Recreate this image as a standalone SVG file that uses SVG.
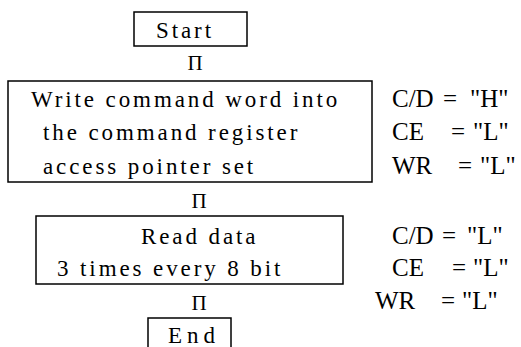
<svg xmlns="http://www.w3.org/2000/svg" width="521" height="347" viewBox="0 0 521 347">
<style>
.box{fill:#fff;stroke:#000;stroke-width:1.5}
.t{font-family:"Liberation Serif","Times New Roman",serif;font-size:23px;letter-spacing:2.9px;fill:#000}
.r{font-family:"Liberation Serif","Times New Roman",serif;font-size:25px;fill:#000}
.a{font-family:"Liberation Serif","Times New Roman",serif;font-size:21px;fill:#000;text-anchor:middle}
</style>
<rect width="521" height="347" fill="#fff"/>
<g id="start">
<rect class="box" x="134" y="12" width="113" height="34"/>
<text class="t" x="156" y="38">Start</text>
</g>
<g id="write">
<rect class="box" x="8" y="81" width="364" height="101"/>
<text class="t" x="31" y="107">Write command word into</text>
<text class="t" x="43" y="140">the command register</text>
<text class="t" x="43" y="174">access pointer set</text>
</g>
<g id="write-signals">
<text class="r" y="107"><tspan x="392">C/D</tspan><tspan x="443">=</tspan><tspan x="470">"H"</tspan></text>
<text class="r" y="140"><tspan x="392">CE</tspan><tspan x="451">=</tspan><tspan x="473">"L"</tspan></text>
<text class="r" y="174"><tspan x="392">WR</tspan><tspan x="458">=</tspan><tspan x="480">"L"</tspan></text>
</g>
<g id="read">
<rect class="box" x="36" y="216" width="307" height="68"/>
<text class="t" x="141" y="244">Read data</text>
<text class="t" x="57" y="276">3 times every 8 bit</text>
</g>
<g id="read-signals">
<text class="r" y="244"><tspan x="392">C/D</tspan><tspan x="442">=</tspan><tspan x="467">"L"</tspan></text>
<text class="r" y="276"><tspan x="392">CE</tspan><tspan x="452">=</tspan><tspan x="473">"L"</tspan></text>
<text class="r" y="309"><tspan x="375">WR</tspan><tspan x="441">=</tspan><tspan x="462">"L"</tspan></text>
</g>
<g id="end">
<rect class="box" x="148" y="318" width="83" height="40"/>
<text class="t" x="168" y="343" style="letter-spacing:5px">End</text>
</g>
<g id="connectors">
<text class="a" x="195" y="70">Π</text>
<text class="a" x="199" y="208">Π</text>
<text class="a" x="199" y="310">Π</text>
</g>
</svg>
